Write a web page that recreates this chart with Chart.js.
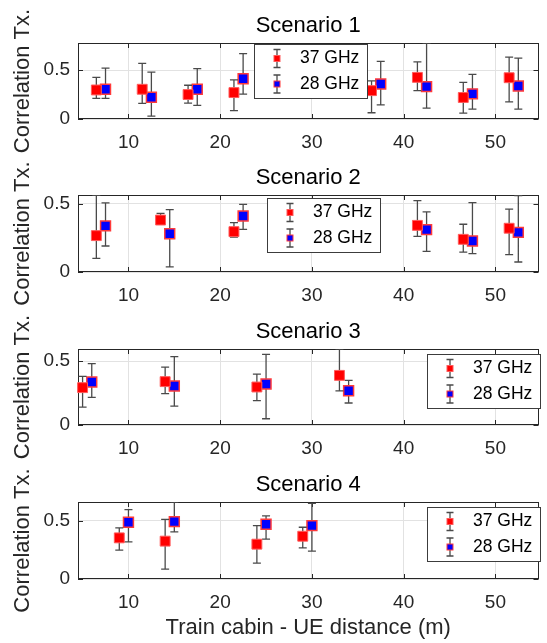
<!DOCTYPE html>
<html>
<head>
<meta charset="utf-8">
<script src="https://cdn.jsdelivr.net/npm/chart.js@4.4.0/dist/chart.umd.min.js"></script>
<style>
  html, body { margin: 0; padding: 0; background: #fff; }
  #wrap { position: relative; width: 547px; height: 643px; overflow: hidden; }
  #wrap canvas { position: absolute; left: 0; top: 0; }
</style>
</head>
<body>
<div id="wrap">
  <canvas id="c1" width="547" height="643"></canvas>
  <canvas id="c2" width="547" height="643"></canvas>
  <canvas id="c3" width="547" height="643"></canvas>
  <canvas id="c4" width="547" height="643"></canvas>
</div>
<script>
// ---- data ----
const seriesNames = ['37 GHz', '28 GHz'];
const titles = ['Scenario 1', 'Scenario 2', 'Scenario 3', 'Scenario 4'];
const xTicks = [10, 20, 30, 40, 50];
const yTicks = [0, 0.5];
const yMax = [0.777, 0.563, 0.594, 0.659];

// Scenario 1
const s1Dist37 = [6.5, 11.5, 16.5, 21.5, 36.5, 41.5, 46.5, 51.5];
const s1Mean37 = [0.297, 0.304, 0.25, 0.27, 0.29, 0.426, 0.22, 0.422];
const s1Low37  = [0.21, 0.159, 0.162, 0.085, 0.064, 0.29, 0.061, 0.176];
const s1High37 = [0.426, 0.568, 0.345, 0.40, 0.39, 0.585, 0.375, 0.632];
const s1Dist28 = [7.5, 12.5, 17.5, 22.5, 37.5, 42.5, 47.5, 52.5];
const s1Mean28 = [0.304, 0.223, 0.304, 0.412, 0.358, 0.331, 0.257, 0.338];
const s1Low28  = [0.21, 0.03, 0.139, 0.254, 0.145, 0.112, 0.101, 0.101];
const s1High28 = [0.52, 0.48, 0.514, 0.669, 0.59, 0.777, 0.456, 0.622];

// Scenario 2
const s2Dist37 = [6.5, 13.5, 21.5, 41.5, 46.5, 51.5];
const s2Mean37 = [0.266, 0.38, 0.295, 0.341, 0.239, 0.32];
const s2Low37  = [0.10, 0.349, 0.256, 0.261, 0.146, 0.127];
const s2High37 = [0.561, 0.429, 0.361, 0.522, 0.349, 0.459];
const s2Dist28 = [7.5, 14.5, 22.5, 42.5, 47.5, 52.5];
const s2Mean28 = [0.337, 0.28, 0.41, 0.31, 0.227, 0.29];
const s2Low28  = [0.19, 0.037, 0.312, 0.151, 0.134, 0.073];
const s2High28 = [0.505, 0.456, 0.495, 0.439, 0.507, 0.559];

// Scenario 3
const s3Dist37 = [5, 14, 24, 33];
const s3Mean37 = [0.292, 0.339, 0.297, 0.388];
const s3Low37  = [0.14, 0.245, 0.19, 0.266];
const s3High37 = [0.38, 0.453, 0.398, 0.594];
const s3Dist28 = [6, 15, 25, 34];
const s3Mean28 = [0.336, 0.305, 0.32, 0.268];
const s3Low28  = [0.216, 0.148, 0.049, 0.172];
const s3High28 = [0.479, 0.534, 0.552, 0.349];

// Scenario 4
const s4Dist37 = [9, 14, 24, 29];
const s4Mean37 = [0.352, 0.324, 0.298, 0.366];
const s4Low37  = [0.247, 0.085, 0.136, 0.267];
const s4High37 = [0.4375, 0.511, 0.457, 0.443];
const s4Dist28 = [10, 15, 25, 30];
const s4Mean28 = [0.486, 0.491, 0.469, 0.457];
const s4Low28  = [0.318, 0.403, 0.341, 0.239];
const s4High28 = [0.594, 0.659, 0.54, 0.648];

const scenarios = [
  [[s1Dist37, s1Mean37, s1Low37, s1High37], [s1Dist28, s1Mean28, s1Low28, s1High28]],
  [[s2Dist37, s2Mean37, s2Low37, s2High37], [s2Dist28, s2Mean28, s2Low28, s2High28]],
  [[s3Dist37, s3Mean37, s3Low37, s3High37], [s3Dist28, s3Mean28, s3Low28, s3High28]],
  [[s4Dist37, s4Mean37, s4Low37, s4High37], [s4Dist28, s4Mean28, s4Low28, s4High28]]
];

// ---- layout (pixels) ----
const plotTop    = [43, 195, 349, 502];
const plotBottom = [119, 272, 425, 579];
const legendBox  = [[254, 44], [267, 198], [427, 354], [427, 507]];
const FONT = '"Liberation Sans", Arial, Helvetica, sans-serif';
const AXIS_COLOR = '#262626';
const BAR_COLOR = '#4a4a4a';
const CAP = 4;

const markerFill   = ['#ff0000', '#0000ff'];
const markerBorder = ['#ff5a5a', '#ff3a3a'];
const markerBorderW = [1, 1.5];

// error bars under each series' markers
const errorBars = {
  id: 'errorBars',
  beforeDatasetDraw(chart, args) {
    const ds = chart.data.datasets[args.index];
    const xs = chart.scales.x, ys = chart.scales.y;
    const a = chart.chartArea;
    const ctx = chart.ctx;
    ctx.save();
    ctx.beginPath();
    ctx.rect(a.left, a.top, a.right - a.left, a.bottom - a.top);
    ctx.clip();
    ctx.strokeStyle = BAR_COLOR;
    ctx.lineWidth = 1.3;
    ctx.beginPath();
    ds.data.forEach((p, i) => {
      const x = xs.getPixelForValue(p.x);
      const yl = ys.getPixelForValue(ds.errLow[i]);
      const yh = ys.getPixelForValue(ds.errHigh[i]);
      ctx.moveTo(x, yl); ctx.lineTo(x, yh);
      ctx.moveTo(x - CAP, yl); ctx.lineTo(x + CAP, yl);
      ctx.moveTo(x - CAP, yh); ctx.lineTo(x + CAP, yh);
    });
    ctx.stroke();
    ctx.restore();
  }
};

// matlab style box with inward ticks
const axesBox = {
  id: 'axesBox',
  beforeDatasetsDraw(chart) {
    const a = chart.chartArea;
    const ctx = chart.ctx;
    const xs = chart.scales.x, ys = chart.scales.y;
    ctx.save();
    ctx.strokeStyle = AXIS_COLOR;
    ctx.lineWidth = 1;
    ctx.strokeRect(Math.round(a.left) + 0.5, Math.round(a.top) + 0.5,
                   Math.round(a.right - a.left) - 1, Math.round(a.bottom - a.top) - 1);
    ctx.beginPath();
    xTicks.forEach(v => {
      const x = Math.round(xs.getPixelForValue(v)) + 0.5;
      ctx.moveTo(x, a.bottom); ctx.lineTo(x, a.bottom - 5);
      ctx.moveTo(x, a.top); ctx.lineTo(x, a.top + 5);
    });
    yTicks.forEach(v => {
      const y = Math.round(ys.getPixelForValue(v)) + 0.5;
      ctx.moveTo(a.left, y); ctx.lineTo(a.left + 5, y);
      ctx.moveTo(a.right, y); ctx.lineTo(a.right - 5, y);
    });
    ctx.stroke();
    ctx.restore();
  }
};

const errLegend = {
  id: 'errLegend',
  afterDraw(chart, args, opts) {
    const ctx = chart.ctx;
    const L = opts.x, T = opts.y, W = 113, H = 54;
    ctx.save();
    ctx.fillStyle = '#fff';
    ctx.fillRect(L, T, W, H);
    ctx.strokeStyle = '#3c3c3c';
    ctx.lineWidth = 1;
    ctx.strokeRect(L + 0.5, T + 0.5, W, H);
    seriesNames.forEach((name, k) => {
      const cy = T + 14.5 + k * 25.5;
      const cx = L + 23;
      ctx.strokeStyle = BAR_COLOR;
      ctx.lineWidth = 1.3;
      ctx.beginPath();
      ctx.moveTo(cx, cy - 9); ctx.lineTo(cx, cy + 9);
      ctx.moveTo(cx - 3.5, cy - 9); ctx.lineTo(cx + 3.5, cy - 9);
      ctx.moveTo(cx - 3.5, cy + 9); ctx.lineTo(cx + 3.5, cy + 9);
      ctx.stroke();
      ctx.fillStyle = markerBorder[k];
      ctx.fillRect(cx - 3.5, cy - 3.5, 7, 7);
      ctx.fillStyle = markerFill[k];
      ctx.fillRect(cx - 2.5, cy - 2.5, 5, 5);
      ctx.fillStyle = '#000';
      ctx.font = '17.5px ' + FONT;
      ctx.textBaseline = 'middle';
      ctx.textAlign = 'left';
      ctx.fillText(name, L + 46, cy);
    });
    ctx.restore();
  }
};

function makeChart(i) {
  const datasets = scenarios[i].map((s, k) => ({
    label: seriesNames[k],
    data: s[0].map((d, j) => ({ x: d, y: s[1][j] })),
    errLow: s[2],
    errHigh: s[3],
    showLine: false,
    pointStyle: 'rect',
    pointRadius: 7,
    backgroundColor: markerFill[k],
    borderColor: markerBorder[k],
    borderWidth: markerBorderW[k],
    clip: false
  }));
  const isLast = i === 3;

  new Chart(document.getElementById('c' + (i + 1)), {
    type: 'scatter',
    data: { datasets },
    plugins: [errorBars, axesBox, errLegend],
    options: {
      responsive: false,
      animation: false,
      devicePixelRatio: 1,
      events: [],
      layout: { padding: { top: plotTop[i] - 30.7, left: 0, right: 1, bottom: 0 } },
      plugins: {
        legend: { display: false },
        tooltip: { enabled: false },
        title: {
          display: true,
          fullSize: false,
          text: titles[i],
          color: '#000',
          font: { family: FONT, size: 22, weight: 'normal' },
          padding: { top: 0, bottom: 4.3 }
        },
        errLegend: { x: legendBox[i][0], y: legendBox[i][1] }
      },
      scales: {
        x: {
          type: 'linear',
          min: 4.5,
          max: 54.7,
          afterBuildTicks: s => { s.ticks = xTicks.map(v => ({ value: v })); },
          afterFit: s => { s.height = 643 - plotBottom[i]; },
          ticks: {
            color: AXIS_COLOR,
            font: { family: FONT, size: 19 },
            padding: 12,
            maxRotation: 0,
            callback: v => String(v)
          },
          grid: { color: '#e2e2e2', drawTicks: false },
          border: { display: false },
          title: {
            display: isLast,
            text: 'Train cabin - UE distance (m)',
            color: AXIS_COLOR,
            font: { family: FONT, size: 22 },
            padding: { top: 0, bottom: 2 }
          }
        },
        y: {
          min: 0,
          max: yMax[i],
          afterBuildTicks: s => { s.ticks = yTicks.map(v => ({ value: v })); },
          afterFit: s => { s.width = 78; },
          ticks: {
            color: AXIS_COLOR,
            font: { family: FONT, size: 19 },
            padding: 8,
            callback: v => (v === 0 ? '0' : String(v))
          },
          grid: { color: '#e2e2e2', drawTicks: false },
          border: { display: false },
          title: {
            display: true,
            text: 'Correlation Tx.',
            color: AXIS_COLOR,
            font: { family: FONT, size: 22 },
            padding: { top: 10, bottom: 0 }
          }
        }
      }
    }
  });
}

[0, 1, 2, 3].forEach(makeChart);
</script>
</body>
</html>
